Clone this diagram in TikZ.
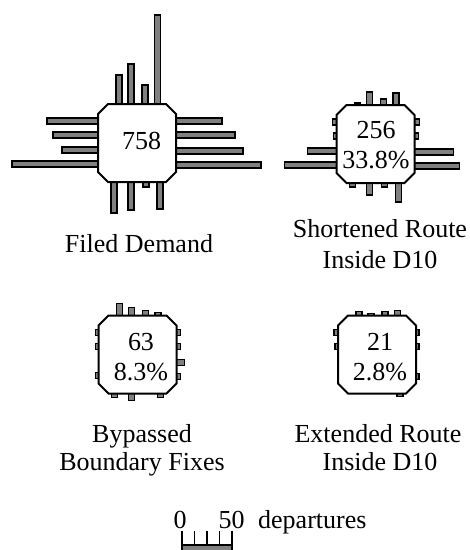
\documentclass[tikz,border=0pt]{standalone}
\usepackage{fontspec}
\setmainfont{Liberation Serif}
\tikzset{
  chipline/.style={draw, line width=2pt, fill=white, line join=miter},
  bar/.style={draw=black, fill=gray, line width=1.3pt},
  lbl/.style={anchor=base, inner sep=0pt, font=\fontsize{26}{31}\selectfont},
  tick/.style={line width=1.3pt},
}
\newcommand\topbars[3]{\foreach \o/\l in {#3}{\draw[bar] ({#1+(\o)-3},{#2-36}) rectangle ({#1+(\o)+3},{#2-39-\l});}}
\newcommand\bottombars[3]{\foreach \o/\l in {#3}{\draw[bar] ({#1+(\o)-3},{#2+36}) rectangle ({#1+(\o)+3},{#2+39+\l});}}
\newcommand\leftbars[3]{\foreach \o/\l in {#3}{\draw[bar] ({#1-36},{#2+(\o)-3}) rectangle ({#1-39-\l},{#2+(\o)+3});}}
\newcommand\rightbars[3]{\foreach \o/\l in {#3}{\draw[bar] ({#1+36},{#2+(\o)-3}) rectangle ({#1+39+\l},{#2+(\o)+3});}}
\newcommand\octa[3]{\coordinate (#1) at (#2,#3);
  \draw[chipline] ({#2-29},{#3-39}) -- ({#2+29},{#3-39}) -- ({#2+39},{#3-29}) -- ({#2+39},{#3+29})
    -- ({#2+29},{#3+39}) -- ({#2-29},{#3+39}) -- ({#2-39},{#3+29}) -- ({#2-39},{#3-29}) -- cycle;}
\begin{document}
\begin{tikzpicture}[x=1pt,y=-1pt]
\useasboundingbox (0,0) rectangle (470,550);
% glyph 1
\topbars{137}{143}{-18/29,-6/40,8/19,20.5/89}
\rightbars{137}{143}{-22/46,-8/59,8/67,22/85}
\bottombars{137}{143}{-23/31,-6/28,9/5,23/27}
\leftbars{137}{143}{-22/51,-8/45,7/36,21/86}
\octa{g1}{137}{143}
\node[lbl] (n1) at (141.5,149) {758};
% glyph 2
\topbars{375.5}{144}{-18/2,-6/13,8/6,20.5/12}
\rightbars{375.5}{144}{-22/5,-8/4,8/39,22/45}
\bottombars{375.5}{144}{-23/4,-6/12,9/4,23/19}
\leftbars{375.5}{144}{-22/4,-8/3,7/29,21/52}
\octa{g2}{375.5}{144}
\node[lbl] (n2a) at (376,138) {256};
\node[lbl] (n2b) at (376,168) {33.8\%};
% glyph 3
\topbars{137.5}{354.5}{-18/12,-6/8,8/5,20.5/3}
\rightbars{137.5}{354.5}{-22/4,-8/4,8/8,22/4}
\bottombars{137.5}{354.5}{-23/4,-6/7,23/4}
\leftbars{137.5}{354.5}{-22/3,-8/3,21/3}
\octa{g3}{137.5}{354.5}
\node[lbl] (n3a) at (141,350) {63};
\node[lbl] (n3b) at (141,380) {8.3\%};
% glyph 4
\topbars{377}{354.5}{-18/4,-6/2,8/4,20.5/5}
\rightbars{377}{354.5}{-22/3,-8/3,22/3}
\bottombars{377}{354.5}{23/3}
\leftbars{377}{354.5}{-22/4,-8/3}
\octa{g4}{377}{354.5}
\node[lbl] (n4a) at (380,350) {21};
\node[lbl] (n4b) at (380,380) {2.8\%};
% labels
\node[lbl] (l1) at (139,252) {Filed Demand};
\node[lbl] (l2a) at (380,237) {Shortened Route};
\node[lbl] (l2b) at (380,268) {Inside D10};
\node[lbl] (l3a) at (142,442) {Bypassed};
\node[lbl] (l3b) at (142,470) {Boundary Fixes};
\node[lbl] (l4a) at (378,442) {Extended Route};
\node[lbl] (l4b) at (380,470) {Inside D10};
% scale
\node[lbl] (s0) at (180,528) {0};
\node[lbl] (s50) at (231.5,528) {50};
\node[lbl, anchor=base west] (sd) at (258,528) {departures};
\draw[bar] (182,545) rectangle (232,556);
\foreach \x in {182,194.5,207,219.5,232} \draw[tick] (\x,531) -- (\x,545);
\end{tikzpicture}
\end{document}
